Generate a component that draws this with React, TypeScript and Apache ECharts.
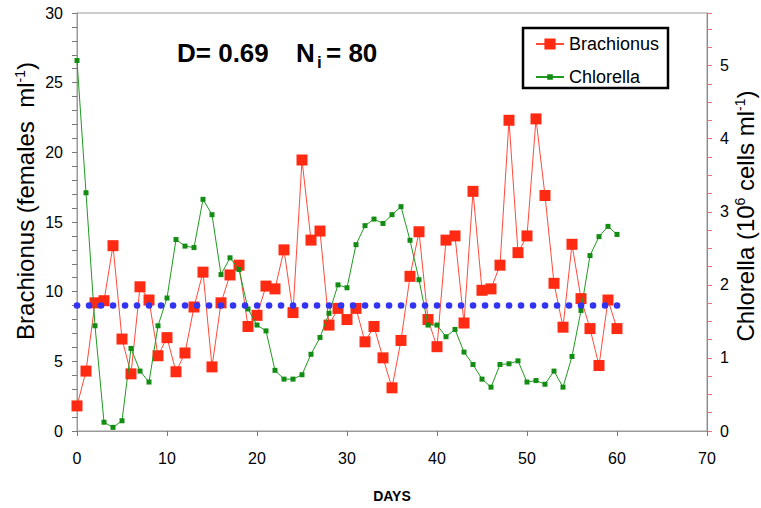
import React, { useEffect, useRef } from "react";
import * as echarts from "echarts";

const DAYS = [
  0, 1, 2, 3, 4, 5, 6, 7, 8, 9, 10, 11, 12, 13, 14, 15, 16, 17, 18, 19, 20,
  21, 22, 23, 24, 25, 26, 27, 28, 29, 30, 31, 32, 33, 34, 35, 36, 37, 38, 39, 40,
  41, 42, 43, 44, 45, 46, 47, 48, 49, 50, 51, 52, 53, 54, 55, 56, 57, 58, 59, 60,
];

const BRACHIONUS = [
  1.8, 4.3, 9.2, 9.35, 13.3, 6.6, 4.1, 10.35, 9.4, 5.4, 6.7, 4.25, 5.6, 8.9,
  11.4, 4.6, 9.2, 11.2, 11.9, 7.5, 8.3, 10.4, 10.2, 13.0, 8.5, 19.45, 13.7,
  14.35, 7.6, 8.8, 8.0, 8.8, 6.4, 7.5, 5.25, 3.1, 6.5, 11.1, 14.3, 8.0, 6.05,
  13.7, 14.0, 7.75, 17.2, 10.1, 10.2, 11.9, 22.3, 12.8, 14.0, 22.4, 16.9, 10.6,
  7.45, 13.4, 9.5, 7.35, 4.7, 9.4, 7.35,
];

const CHLORELLA = [
  5.07, 3.26, 1.44, 0.12, 0.05, 0.14, 1.13, 0.82, 0.67, 1.44, 1.82, 2.62, 2.53,
  2.51, 3.17, 2.96, 2.14, 2.37, 2.21, 1.67, 1.45, 1.37, 0.83, 0.71, 0.71, 0.77,
  1.05, 1.28, 1.61, 2.0, 1.96, 2.55, 2.81, 2.9, 2.84, 2.96, 3.07, 2.61, 2.07,
  1.45, 1.45, 1.29, 1.39, 1.08, 0.91, 0.71, 0.6, 0.91, 0.92, 0.96, 0.67, 0.69,
  0.64, 0.82, 0.6, 1.02, 1.65, 2.4, 2.66, 2.8, 2.69,
];

const MEAN_DAYS = [0, 61.2];
const MEAN_LEVEL = [9, 9];

const FONT = "'Liberation Sans', Arial, Helvetica, sans-serif";

export default function App() {
  const ref = useRef<HTMLDivElement>(null);

  useEffect(() => {
    if (!ref.current) return;
    const chart = echarts.init(ref.current, null, { renderer: "svg" });
    const isInt = (v: number) => Math.abs(v - Math.round(v)) < 1e-6;

    chart.setOption({
      animation: false,
      backgroundColor: "#fff",
      textStyle: { fontFamily: FONT },
      grid: {
        left: 77,
        right: 54,
        top: 13,
        bottom: 71,
        show: true,
        borderColor: "#9a9a9a",
        borderWidth: 1,
      },
      legend: [
        {
          data: ["Brachionus"],
          left: 535,
          top: 35,
          padding: 0,
          itemWidth: 28,
          itemHeight: 14,
          textStyle: { fontSize: 18, color: "#000", fontFamily: FONT },
        },
        {
          data: ["Chlorella"],
          left: 535,
          top: 68,
          padding: 0,
          itemWidth: 28,
          itemHeight: 7,
          textStyle: { fontSize: 18, color: "#000", fontFamily: FONT },
        },
      ],
      xAxis: {
        type: "value",
        min: 0,
        max: 70,
        interval: 10,
        name: "DAYS",
        nameLocation: "middle",
        nameGap: 58,
        nameTextStyle: {
          fontSize: 14,
          fontWeight: "bold",
          color: "#000",
          fontFamily: FONT,
        },
        axisLine: { show: true, lineStyle: { color: "#9a9a9a", width: 1 } },
        axisTick: { show: true, length: 5, lineStyle: { color: "#777" } },
        axisLabel: { fontSize: 16, color: "#000", margin: 19, fontFamily: FONT },
        splitLine: { show: false },
      },
      yAxis: [
        {
          type: "value",
          min: 0,
          max: 30,
          interval: 1,
          position: "left",
          axisLine: { show: true, lineStyle: { color: "#9a9a9a", width: 1 } },
          axisTick: { show: true, length: 5, lineStyle: { color: "#777" } },
          axisLabel: {
            fontSize: 16,
            color: "#000",
            margin: 14,
            fontFamily: FONT,
            formatter: (v: number) => (isInt(v) && Math.round(v) % 5 === 0 ? String(Math.round(v)) : ""),
          },
          splitLine: { show: false },
        },
        {
          type: "value",
          min: 0,
          max: 5.72,
          interval: 0.25,
          position: "right",
          axisLine: { show: true, lineStyle: { color: "#e06666", width: 1 } },
          axisTick: { show: true, length: 5, lineStyle: { color: "#e07575" } },
          axisLabel: {
            fontSize: 16,
            color: "#000",
            margin: 13,
            fontFamily: FONT,
            formatter: (v: number) => (isInt(v) && v < 5.6 ? String(Math.round(v)) : ""),
          },
          splitLine: { show: false },
        },
      ],
      series: [
        {
          name: "Brachionus",
          type: "line",
          yAxisIndex: 0,
          data: DAYS.map((d, i) => [d, BRACHIONUS[i]]),
          symbol: "rect",
          symbolSize: 11,
          itemStyle: { color: "#ff2a12" },
          lineStyle: { color: "#ff4a3a", width: 1 },
          z: 2,
        },
        {
          name: "Chlorella",
          type: "line",
          yAxisIndex: 1,
          data: DAYS.map((d, i) => [d, CHLORELLA[i]]),
          symbol: "rect",
          symbolSize: 5,
          itemStyle: { color: "#128c12" },
          lineStyle: { color: "#1f9a1f", width: 1 },
          z: 3,
        },
        {
          name: "Mean",
          type: "line",
          yAxisIndex: 0,
          data: MEAN_DAYS.map((d, i) => [d, MEAN_LEVEL[i]]),
          symbol: "none",
          silent: true,
          lineStyle: {
            color: "#3333f2",
            width: 6.5,
            type: [0.1, 11.9],
            cap: "round",
          },
          z: 4,
        },
      ],
      graphic: [
        {
          type: "rect",
          shape: { x: 523, y: 28, width: 145, height: 60 },
          style: { fill: "none", stroke: "#000", lineWidth: 2.5 },
          z: 10,
        },
        {
          type: "text",
          x: 177,
          y: 53,
          style: {
            text: "D= 0.69",
            fontSize: 26,
            fontWeight: "bold",
            fontFamily: FONT,
            fill: "#000",
            verticalAlign: "middle",
          },
        },
        {
          type: "text",
          x: 296,
          y: 53,
          style: {
            text: "N",
            fontSize: 26,
            fontWeight: "bold",
            fontFamily: FONT,
            fill: "#000",
            verticalAlign: "middle",
          },
        },
        {
          type: "text",
          x: 317,
          y: 62,
          style: {
            text: "i",
            fontSize: 17,
            fontWeight: "bold",
            fontFamily: FONT,
            fill: "#000",
            verticalAlign: "middle",
          },
        },
        {
          type: "text",
          x: 326,
          y: 53,
          style: {
            text: "= 80",
            fontSize: 26,
            fontWeight: "bold",
            fontFamily: FONT,
            fill: "#000",
            verticalAlign: "middle",
          },
        },
        {
          type: "text",
          x: 25,
          y: 201,
          rotation: Math.PI / 2,
          style: {
            text: "{n|Brachionus (females  ml}{s|-1}{n|)}",
            align: "center",
            verticalAlign: "middle",
            rich: {
              n: { fontSize: 24, fontFamily: FONT, fill: "#000" },
              s: { fontSize: 14, fontFamily: FONT, fill: "#000", verticalAlign: "top" },
            },
          },
        },
        {
          type: "text",
          x: 745,
          y: 216,
          rotation: Math.PI / 2,
          style: {
            text: "{n|Chlorella (10}{s|6}{n| cells ml}{s|-1}{n|)}",
            align: "center",
            verticalAlign: "middle",
            rich: {
              n: { fontSize: 24, fontFamily: FONT, fill: "#000" },
              s: { fontSize: 14, fontFamily: FONT, fill: "#000", verticalAlign: "top" },
            },
          },
        },
      ],
    });

    return () => chart.dispose();
  }, []);

  return (
    <div
      ref={ref}
      style={{ position: "fixed", left: 0, top: 0, width: 761, height: 508 }}
    />
  );
}
